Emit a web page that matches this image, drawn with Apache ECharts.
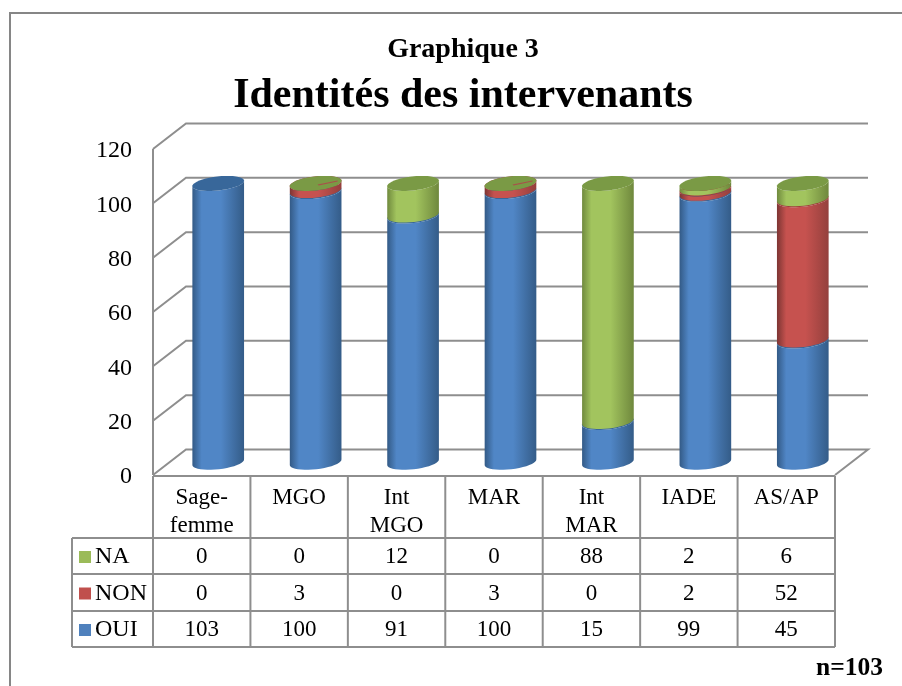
<!DOCTYPE html>
<html>
<head>
<meta charset="utf-8">
<style>html,body{margin:0;padding:0;background:#fff}#main{width:902px;height:686px}</style>
<script src="https://cdn.jsdelivr.net/npm/echarts@6/dist/echarts.min.js"></script>
</head>
<body>
<div id="main"></div>
<script>
var categories = ['Sage-\nfemme', 'MGO', 'Int\nMGO', 'MAR', 'Int\nMAR', 'IADE', 'AS/AP'];
var oui = [103, 100, 91, 100, 15, 99, 45];
var non = [0, 3, 0, 3, 0, 2, 52];
var na = [0, 0, 12, 0, 88, 2, 6];
var yTicks = [0, 20, 40, 60, 80, 100, 120];

var serif = '"Liberation Serif", "Times New Roman", serif';
var lineColor = '#8e8e8e';
var depth = [33, -25.5];      // decalage du mur du fond
var rx = 26, ry = 7, tilt = -6.5 * Math.PI / 180;

var looks = {
  OUI: { key: '#4f81bd', cap: '#38679a', side: ['#335a86', '#5086c6', '#345c88'] },
  NON: { key: '#c0504d', cap: '#a03f3c', side: ['#7d3533', '#c6524f', '#94403d'] },
  NA: { key: '#9bbb59', cap: '#7a9a45', side: ['#708a3e', '#a2c45e', '#6f883d'] }
};

function ellipsePoint(cx, cy, t) {
  var ex = rx * Math.cos(t), ey = ry * Math.sin(t);
  return [cx + ex * Math.cos(tilt) - ey * Math.sin(tilt), cy + ex * Math.sin(tilt) + ey * Math.cos(tilt)];
}

function capPoints(cx, cy) {
  var pts = [];
  for (var i = 0; i < 40; i++) pts.push(ellipsePoint(cx, cy, i / 40 * Math.PI * 2));
  return pts;
}

function bodyPoints(cx, yTop, yBottom) {
  var pts = [], i;
  for (i = 0; i <= 20; i++) pts.push(ellipsePoint(cx, yTop, i / 20 * Math.PI));
  for (i = 20; i >= 0; i--) pts.push(ellipsePoint(cx, yBottom, i / 20 * Math.PI));
  return pts;
}

function cylinderSeries(name, values, bases) {
  var look = looks[name];
  return {
    name: name,
    type: 'custom',
    coordinateSystem: 'cartesian2d',
    itemStyle: { color: look.key },
    clip: false,
    z: 3,
    encode: { x: 0, y: 2 },
    data: values.map(function (v, i) { return [i, bases[i], bases[i] + v, v]; }),
    renderItem: function (params, api) {
      var i = api.value(0), value = api.value(3);
      var bottom = api.coord([i, api.value(1)]);
      var top = api.coord([i, api.value(2)]);
      var cx = bottom[0] + depth[0] / 2;
      var yBottom = bottom[1] + depth[1] / 2, yTop = top[1] + depth[1] / 2 + 1;
      var children = [];
      // colonne vide dans Excel : pas de chapeau vert, le bleu reste visible
      if (value === 0 && (name !== 'NA' || i === 0)) return { type: 'group', children: [] };
      if (value > 0) {
        children.push({
          type: 'polygon',
          shape: { points: bodyPoints(cx, yTop, yBottom) },
          style: {
            fill: new echarts.graphic.LinearGradient(0, 0, 1, 0, [
              { offset: 0, color: look.side[0] },
              { offset: 0.18, color: look.side[1] },
              { offset: 0.55, color: look.side[1] },
              { offset: 1, color: look.side[2] }
            ])
          }
        });
      }
      children.push({ type: 'polygon', shape: { points: capPoints(cx, yTop) }, style: { fill: look.cap } });
      // petites traces rouges sur le dessus de MGO et MAR
      if (name === 'NA' && value === 0) {
        children.push({
          type: 'polygon',
          shape: { points: [[cx + 2, yTop + 1], [cx + 22, yTop - 3], [cx + 22, yTop - 2], [cx + 3, yTop + 2]] },
          style: { fill: '#a9504a' }
        });
      }
      return { type: 'group', children: children };
    }
  };
}

var nonBase = oui;
var naBase = oui.map(function (v, i) { return v + non[i]; });
var zeros = oui.map(function () { return 0; });

var wallSeries = {
  name: 'murs',
  type: 'custom',
  coordinateSystem: 'cartesian2d',
  silent: true,
  clip: false,
  z: 1,
  encode: { y: 1 },
  data: yTicks.map(function (t) { return [0, t]; }),
  renderItem: function (params, api) {
    var v = api.value(1);
    var sys = params.coordSys;
    var y = api.coord([0, v])[1];
    var x0 = sys.x, x1 = sys.x + sys.width;
    var pts = [[x0, y], [x0 + depth[0], y + depth[1]], [x1 + depth[0], y + depth[1]]];
    if (v === 0) pts.push([x1, y]);
    var style = { fill: 'none', stroke: lineColor, lineWidth: 2 };
    var children = [{ type: 'polyline', shape: { points: pts }, style: style }];
    if (v === 0) {
      children.push({ type: 'polyline', shape: { points: [[x0, y], [x0, sys.y]] }, style: style });
    }
    return { type: 'group', children: children };
  }
};

// tableau de donnees sous le graphique
var rowLines = [0, 62, 98, 135, 171];
var legendLeft = 72;
var tableRows = [na, non, oui];

var tableGrid = {
  name: 'tableau',
  type: 'custom',
  coordinateSystem: 'cartesian2d',
  silent: true,
  clip: false,
  z: 2,
  encode: { x: 0 },
  data: [[0, 0]],
  renderItem: function (params, api) {
    var sys = params.coordSys, y0 = sys.y + sys.height + 1;
    var x1 = sys.x + sys.width, band = sys.width / categories.length;
    var style = { fill: 'none', stroke: lineColor, lineWidth: 2 };
    var children = [];
    rowLines.forEach(function (r, k) {
      children.push({
        type: 'line',
        shape: { x1: k === 0 ? sys.x : legendLeft, y1: y0 + r, x2: x1, y2: y0 + r },
        style: style
      });
    });
    for (var i = 0; i <= categories.length; i++) {
      children.push({
        type: 'line',
        shape: { x1: sys.x + i * band, y1: y0, x2: sys.x + i * band, y2: y0 + rowLines[4] },
        style: style
      });
    }
    children.push({
      type: 'line',
      shape: { x1: legendLeft, y1: y0 + rowLines[1], x2: legendLeft, y2: y0 + rowLines[4] },
      style: style
    });
    return { type: 'group', children: children };
  }
};

var cellData = [];
tableRows.forEach(function (row, r) {
  row.forEach(function (v, i) { cellData.push([i, r, v]); });
});

var tableCells = {
  name: 'valeurs',
  type: 'custom',
  coordinateSystem: 'cartesian2d',
  silent: true,
  clip: false,
  z: 4,
  encode: { x: 0 },
  data: cellData,
  renderItem: function (params, api) {
    var sys = params.coordSys, r = api.value(1);
    var y0 = sys.y + sys.height + 1;
    return {
      type: 'text',
      style: {
        text: String(api.value(2)),
        x: api.coord([api.value(0), 0])[0],
        y: y0 + (rowLines[r + 1] + rowLines[r + 2]) / 2 + 1,
        textAlign: 'center',
        textVerticalAlign: 'middle',
        fontFamily: serif,
        fontSize: 23,
        fill: '#000'
      }
    };
  }
};

var chart = echarts.init(document.getElementById('main'));
chart.setOption({
  animation: false,
  backgroundColor: '#fff',
  title: [
    { text: 'Graphique 3', left: 463, top: 36, padding: 0, textAlign: 'center', textStyle: { fontFamily: serif, fontSize: 28, fontWeight: 'bold', color: '#000' } },
    { text: 'Identités des intervenants', left: 463, top: 75, padding: 0, textAlign: 'center', textStyle: { fontFamily: serif, fontSize: 42, fontWeight: 'bold', color: '#000' } },
    { text: 'n=103', left: 816, top: 655, padding: 0, textStyle: { fontFamily: serif, fontSize: 25.5, fontWeight: 'bold', color: '#000' } }
  ],
  legend: {
    orient: 'vertical',
    left: 79,
    top: 545,
    padding: 0,
    itemWidth: 12,
    itemHeight: 12,
    itemGap: 12.5,
    icon: 'rect',
    selectedMode: false,
    data: ['NA', 'NON', 'OUI'],
    textStyle: { fontFamily: serif, fontSize: 24, color: '#000', padding: [0, 0, 0, -1] }
  },
  grid: { left: 153, right: 67, top: 149, height: 326 },
  xAxis: {
    type: 'category',
    data: categories,
    axisLine: { show: false },
    axisTick: { show: false },
    axisLabel: {
      interval: 0,
      margin: 9,
      lineHeight: 28,
      fontFamily: serif,
      fontSize: 23,
      color: '#000',
      verticalAlign: 'top'
    }
  },
  yAxis: {
    type: 'value',
    min: 0,
    max: 120,
    interval: 20,
    axisLine: { show: false },
    axisTick: { show: false },
    splitLine: { show: false },
    axisLabel: { margin: 21, fontFamily: serif, fontSize: 24, color: '#000', verticalAlign: 'top', padding: [-10, 0, 0, 0] }
  },
  graphic: [{
    type: 'polyline',
    shape: { points: [[10, 690], [10, 13], [905, 13]] },
    style: { fill: 'none', stroke: '#868686', lineWidth: 2 }
  }],
  series: [
    wallSeries,
    cylinderSeries('OUI', oui, zeros),
    cylinderSeries('NON', non, nonBase),
    cylinderSeries('NA', na, naBase),
    tableGrid,
    tableCells
  ]
});
</script>
</body>
</html>
